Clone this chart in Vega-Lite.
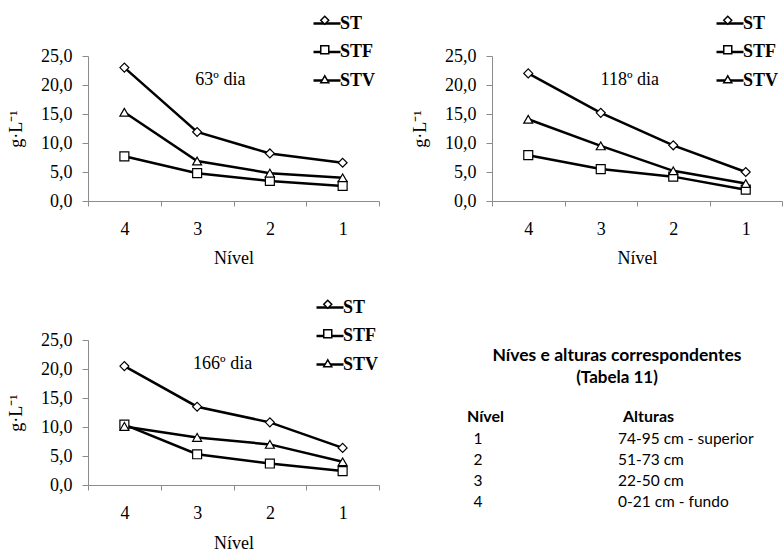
{
  "$schema": "https://vega.github.io/schema/vega-lite/v6.json",
  "background": "white",
  "padding": {"left": 7, "top": 8, "right": 0, "bottom": 0},
  "config": {
    "font": "Liberation Serif",
    "view": {"stroke": null},
    "axis": {"grid": false, "domainColor": "#8c8c8c", "tickColor": "#8c8c8c", "labelColor": "black", "titleColor": "black", "labelFont": "Liberation Serif", "titleFont": "Liberation Serif", "labelFontSize": 18, "titleFontSize": 18, "titleFontWeight": "normal"},
    "legend": {"orient": "none", "title": null, "labelFont": "Liberation Serif", "labelFontSize": 18, "labelFontWeight": "bold", "labelColor": "black", "rowPadding": 4.5}
  },
  "datasets": {
    "dados": [
      {"dia": "63º dia", "nivel": 4, "serie": "ST", "valor": 23.0},
      {"dia": "63º dia", "nivel": 3, "serie": "ST", "valor": 11.9},
      {"dia": "63º dia", "nivel": 2, "serie": "ST", "valor": 8.2},
      {"dia": "63º dia", "nivel": 1, "serie": "ST", "valor": 6.6},
      {"dia": "63º dia", "nivel": 4, "serie": "STF", "valor": 7.7},
      {"dia": "63º dia", "nivel": 3, "serie": "STF", "valor": 4.8},
      {"dia": "63º dia", "nivel": 2, "serie": "STF", "valor": 3.45},
      {"dia": "63º dia", "nivel": 1, "serie": "STF", "valor": 2.6},
      {"dia": "63º dia", "nivel": 4, "serie": "STV", "valor": 15.3},
      {"dia": "63º dia", "nivel": 3, "serie": "STV", "valor": 6.9},
      {"dia": "63º dia", "nivel": 2, "serie": "STV", "valor": 4.8},
      {"dia": "63º dia", "nivel": 1, "serie": "STV", "valor": 4.0},
      {"dia": "118º dia", "nivel": 4, "serie": "ST", "valor": 22.0},
      {"dia": "118º dia", "nivel": 3, "serie": "ST", "valor": 15.2},
      {"dia": "118º dia", "nivel": 2, "serie": "ST", "valor": 9.6},
      {"dia": "118º dia", "nivel": 1, "serie": "ST", "valor": 5.0},
      {"dia": "118º dia", "nivel": 4, "serie": "STF", "valor": 7.9},
      {"dia": "118º dia", "nivel": 3, "serie": "STF", "valor": 5.5},
      {"dia": "118º dia", "nivel": 2, "serie": "STF", "valor": 4.2},
      {"dia": "118º dia", "nivel": 1, "serie": "STF", "valor": 1.95},
      {"dia": "118º dia", "nivel": 4, "serie": "STV", "valor": 14.1},
      {"dia": "118º dia", "nivel": 3, "serie": "STV", "valor": 9.5},
      {"dia": "118º dia", "nivel": 2, "serie": "STV", "valor": 5.2},
      {"dia": "118º dia", "nivel": 1, "serie": "STV", "valor": 3.0},
      {"dia": "166º dia", "nivel": 4, "serie": "ST", "valor": 20.5},
      {"dia": "166º dia", "nivel": 3, "serie": "ST", "valor": 13.5},
      {"dia": "166º dia", "nivel": 2, "serie": "ST", "valor": 10.8},
      {"dia": "166º dia", "nivel": 1, "serie": "ST", "valor": 6.4},
      {"dia": "166º dia", "nivel": 4, "serie": "STF", "valor": 10.4},
      {"dia": "166º dia", "nivel": 3, "serie": "STF", "valor": 5.3},
      {"dia": "166º dia", "nivel": 2, "serie": "STF", "valor": 3.7},
      {"dia": "166º dia", "nivel": 1, "serie": "STF", "valor": 2.4},
      {"dia": "166º dia", "nivel": 4, "serie": "STV", "valor": 10.1},
      {"dia": "166º dia", "nivel": 3, "serie": "STV", "valor": 8.2},
      {"dia": "166º dia", "nivel": 2, "serie": "STV", "valor": 7.0},
      {"dia": "166º dia", "nivel": 1, "serie": "STV", "valor": 4.0}
    ],
    "tabela": [
      {"Nível": "1", "Alturas": "74-95 cm - superior"},
      {"Nível": "2", "Alturas": "51-73 cm"},
      {"Nível": "3", "Alturas": "22-50 cm"},
      {"Nível": "4", "Alturas": "0-21 cm - fundo"}
    ]
  },
  "columns": 2,
  "bounds": "flush",
  "spacing": {"row": 139, "column": 113},
  "resolve": {"scale": {"shape": "independent", "stroke": "independent"}, "legend": {"shape": "independent", "stroke": "independent"}},
  "concat": [
    {
      "width": 291, "height": 145,
      "data": {"name": "dados"},
      "transform": [{"filter": "datum.dia == '63º dia'"}],
      "encoding": {
        "x": {"field": "nivel", "type": "ordinal", "bandPosition": 0.5, "scale": {"type": "band", "domain": [4, 3, 2, 1], "paddingInner": 0, "paddingOuter": 0}, "axis": {"title": "Nível", "labelAngle": 0, "tickBand": "extent", "tickSize": 5, "labelPadding": 14, "titlePadding": 11}},
        "y": {"field": "valor", "type": "quantitative", "scale": {"domain": [0, 25], "nice": false}, "axis": {"title": "g·L⁻¹", "values": [0, 5, 10, 15, 20, 25], "tickSize": 6, "labelPadding": 10, "titlePadding": 15, "labelExpr": "replace(format(datum.value, '.1f'), '.', ',')"}}
      },
      "layer": [
        {"mark": {"type": "line", "strokeWidth": 2.5},
         "encoding": {"stroke": {"field": "serie", "type": "nominal", "scale": {"domain": ["ST", "STF", "STV"], "range": ["black", "black", "black"]}, "legend": {"legendX": 224, "legendY": -47.5, "symbolType": "stroke", "symbolSize": 729, "symbolStrokeWidth": 2.5, "labelOffset": -2}}}},
        {"mark": {"type": "point", "filled": true, "fill": "white", "stroke": "black", "strokeWidth": 1.2, "size": 80, "opacity": 1},
         "encoding": {"shape": {"field": "serie", "type": "nominal", "scale": {"range": ["diamond", "square", "triangle-up"]}, "legend": {"legendX": 225, "legendY": -47.5, "symbolSize": 64, "labelOpacity": 0, "labelFontSize": 23.5}}}},
        {"transform": [{"filter": "datum.nivel == 3 && datum.serie == 'ST'"}],
         "mark": {"type": "text", "fontSize": 18, "font": "Liberation Serif", "color": "black", "baseline": "middle"},
         "encoding": {"x": {"field": "nivel", "type": "ordinal", "bandPosition": 0.82}, "y": {"datum": 20.9}, "text": {"field": "dia"}}}
      ]
    },
    {
      "width": 290, "height": 145,
      "data": {"name": "dados"},
      "transform": [{"filter": "datum.dia == '118º dia'"}],
      "encoding": {
        "x": {"field": "nivel", "type": "ordinal", "bandPosition": 0.5, "scale": {"type": "band", "domain": [4, 3, 2, 1], "paddingInner": 0, "paddingOuter": 0}, "axis": {"title": "Nível", "labelAngle": 0, "tickBand": "extent", "tickSize": 5, "labelPadding": 14, "titlePadding": 11}},
        "y": {"field": "valor", "type": "quantitative", "scale": {"domain": [0, 25], "nice": false}, "axis": {"title": "g·L⁻¹", "values": [0, 5, 10, 15, 20, 25], "tickSize": 6, "labelPadding": 10, "titlePadding": 15, "labelExpr": "replace(format(datum.value, '.1f'), '.', ',')"}}
      },
      "layer": [
        {"mark": {"type": "line", "strokeWidth": 2.5},
         "encoding": {"stroke": {"field": "serie", "type": "nominal", "scale": {"domain": ["ST", "STF", "STV"], "range": ["black", "black", "black"]}, "legend": {"legendX": 223, "legendY": -47.5, "symbolType": "stroke", "symbolSize": 729, "symbolStrokeWidth": 2.5, "labelOffset": -2}}}},
        {"mark": {"type": "point", "filled": true, "fill": "white", "stroke": "black", "strokeWidth": 1.2, "size": 80, "opacity": 1},
         "encoding": {"shape": {"field": "serie", "type": "nominal", "scale": {"range": ["diamond", "square", "triangle-up"]}, "legend": {"legendX": 224, "legendY": -47.5, "symbolSize": 64, "labelOpacity": 0, "labelFontSize": 23.5}}}},
        {"transform": [{"filter": "datum.nivel == 3 && datum.serie == 'ST'"}],
         "mark": {"type": "text", "fontSize": 18, "font": "Liberation Serif", "color": "black", "baseline": "middle"},
         "encoding": {"x": {"field": "nivel", "type": "ordinal", "bandPosition": 0.9}, "y": {"datum": 20.9}, "text": {"field": "dia"}}}
      ]
    },
    {
      "width": 291, "height": 145,
      "data": {"name": "dados"},
      "transform": [{"filter": "datum.dia == '166º dia'"}],
      "encoding": {
        "x": {"field": "nivel", "type": "ordinal", "bandPosition": 0.5, "scale": {"type": "band", "domain": [4, 3, 2, 1], "paddingInner": 0, "paddingOuter": 0}, "axis": {"title": "Nível", "labelAngle": 0, "tickBand": "extent", "tickSize": 5, "labelPadding": 14, "titlePadding": 12}},
        "y": {"field": "valor", "type": "quantitative", "scale": {"domain": [0, 25], "nice": false}, "axis": {"title": "g·L⁻¹", "values": [0, 5, 10, 15, 20, 25], "tickSize": 6, "labelPadding": 10, "titlePadding": 15, "labelExpr": "replace(format(datum.value, '.1f'), '.', ',')"}}
      },
      "layer": [
        {"mark": {"type": "line", "strokeWidth": 2.5},
         "encoding": {"stroke": {"field": "serie", "type": "nominal", "scale": {"domain": ["ST", "STF", "STV"], "range": ["black", "black", "black"]}, "legend": {"legendX": 227, "legendY": -47.5, "symbolType": "stroke", "symbolSize": 729, "symbolStrokeWidth": 2.5, "labelOffset": -2}}}},
        {"mark": {"type": "point", "filled": true, "fill": "white", "stroke": "black", "strokeWidth": 1.2, "size": 80, "opacity": 1},
         "encoding": {"shape": {"field": "serie", "type": "nominal", "scale": {"range": ["diamond", "square", "triangle-up"]}, "legend": {"legendX": 228, "legendY": -47.5, "symbolSize": 64, "labelOpacity": 0, "labelFontSize": 23.5}}}},
        {"transform": [{"filter": "datum.nivel == 3 && datum.serie == 'ST'"}],
         "mark": {"type": "text", "fontSize": 18, "font": "Liberation Serif", "color": "black", "baseline": "middle"},
         "encoding": {"x": {"field": "nivel", "type": "ordinal", "bandPosition": 0.85}, "y": {"datum": 20.9}, "text": {"field": "dia"}}}
      ]
    },
    {
      "width": 290, "height": 172,
      "data": {"name": "tabela"},
      "title": {"text": "Níves e alturas correspondentes", "subtitle": "(Tabela 11)", "font": "Lato", "fontSize": 17.5, "fontWeight": "bold", "color": "black", "subtitleFont": "Lato", "subtitleFontSize": 17, "subtitleFontWeight": "bold", "subtitleColor": "black", "subtitlePadding": 6, "anchor": "middle", "offset": -46, "dx": -20},
      "layer": [
        {"mark": {"type": "text", "align": "center", "dx": 11, "font": "Lato", "fontSize": 15.5, "color": "black"},
         "encoding": {
           "x": {"datum": "Nível", "type": "nominal", "bandPosition": 0, "scale": {"type": "band", "domain": ["Nível", "Alturas"], "range": [-25, 287], "paddingInner": 0, "paddingOuter": 0}, "axis": {"orient": "top", "title": null, "offset": -86, "domain": false, "ticks": false, "labelAngle": 0, "labelAlign": "left", "labelOffset": -78, "labelPadding": 2, "labelFont": "Lato", "labelFontSize": 16, "labelFontWeight": "bold", "labelColor": "black"}},
           "y": {"field": "Nível", "type": "ordinal", "scale": {"type": "band", "domain": ["1", "2", "3", "4"], "range": [89, 172], "paddingInner": 0, "paddingOuter": 0}, "axis": null},
           "text": {"field": "Nível"}}},
        {"mark": {"type": "text", "align": "left", "dx": -5, "font": "Lato", "fontSize": 15.5, "color": "black"},
         "encoding": {
           "x": {"datum": "Alturas", "type": "nominal", "bandPosition": 0},
           "y": {"field": "Nível", "type": "ordinal"},
           "text": {"field": "Alturas"}}}
      ]
    }
  ]
}
